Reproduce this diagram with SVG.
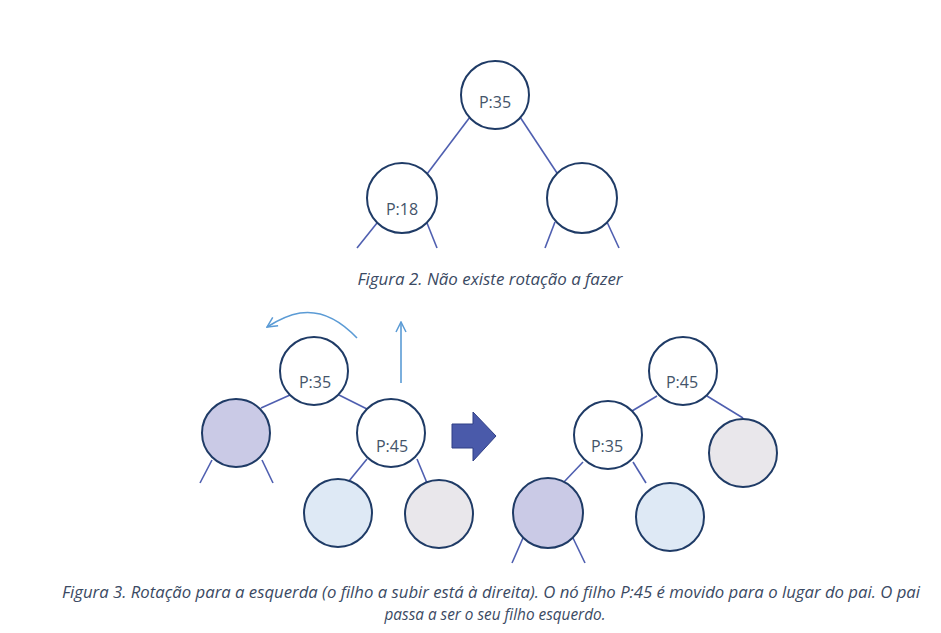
<svg xmlns="http://www.w3.org/2000/svg" width="941" height="633" viewBox="0 0 941 633">
<defs>
<style>
.n{stroke:#1F3B66;stroke-width:2}
.w{fill:#FFFFFF}
.pu{fill:#CACAE6}
.lb{fill:#DEE9F5}
.gr{fill:#E9E7EB}
.e{stroke:#4F5FB0;stroke-width:1.6;fill:none}
.t{font-family:"Open Sans","Noto Sans","Liberation Sans",sans-serif;font-size:16px;fill:#44546A;text-anchor:middle}
.cap{font-family:"Open Sans","Liberation Sans",sans-serif;font-style:italic;font-size:15.5px;fill:#3B4A63;text-anchor:middle}
.ba{stroke:#5B9BD5;stroke-width:1.6;fill:none}
</style>
<marker id="ah" viewBox="0 0 12 12" refX="11" refY="6" markerWidth="12" markerHeight="12" markerUnits="userSpaceOnUse" orient="auto">
<path d="M1,1 L11,6 L1,11" fill="none" stroke="#5B9BD5" stroke-width="1.5"/>
</marker>
</defs>
<rect width="941" height="633" fill="#FFFFFF"/>

<g id="connectors">
<line class="e" x1="470" y1="117" x2="427" y2="174"/>
<line class="e" x1="520" y1="117" x2="557" y2="173"/>
<line class="e" x1="377" y1="223" x2="357" y2="248"/>
<line class="e" x1="427" y1="223" x2="437" y2="248"/>
<line class="e" x1="555" y1="222" x2="545" y2="248"/>
<line class="e" x1="607" y1="222" x2="619" y2="248"/>

<line class="e" x1="290" y1="395" x2="261" y2="408"/>
<line class="e" x1="339" y1="395" x2="367" y2="409"/>
<line class="e" x1="212" y1="460" x2="200" y2="483"/>
<line class="e" x1="262" y1="460" x2="273" y2="483"/>
<line class="e" x1="367" y1="459" x2="349" y2="481"/>
<line class="e" x1="417" y1="459" x2="427" y2="483"/>

<line class="e" x1="657" y1="396" x2="632" y2="411"/>
<line class="e" x1="707" y1="396" x2="743" y2="418"/>
<line class="e" x1="583" y1="462" x2="563" y2="483"/>
<line class="e" x1="633" y1="462" x2="646" y2="483"/>
<line class="e" x1="523" y1="538" x2="512" y2="563"/>
<line class="e" x1="573" y1="538" x2="585" y2="563"/>

<path class="ba" d="M357,338 C340,320 320,310 300,313 C288,315 278,320 267,327" marker-end="url(#ah)"/>
<line class="ba" x1="401" y1="383" x2="401" y2="322" marker-end="url(#ah)"/>
</g>

<g id="fig2-root"><circle class="n w" cx="495" cy="95" r="34"/><text class="t" x="495" y="108">P:35</text></g>
<g id="fig2-left"><circle class="n w" cx="402" cy="198" r="35"/><text class="t" x="402" y="215">P:18</text></g>
<g id="fig2-right"><circle class="n w" cx="582" cy="198" r="35"/></g>
<text id="caption2" class="cap" x="490" y="285" textLength="265" lengthAdjust="spacingAndGlyphs">Figura 2. Não existe rotação a fazer</text>

<g id="fig3a-p35"><circle class="n w" cx="314" cy="371" r="34"/><text class="t" x="315" y="388">P:35</text></g>
<g id="fig3a-purple"><circle class="n pu" cx="236" cy="433" r="34"/></g>
<g id="fig3a-p45"><circle class="n w" cx="391" cy="433" r="34"/><text class="t" x="392" y="452">P:45</text></g>
<g id="fig3a-lightblue"><circle class="n lb" cx="338" cy="513" r="34"/></g>
<g id="fig3a-gray"><circle class="n gr" cx="439" cy="514" r="34"/></g>

<g id="big-arrow"><path d="M452,424 L473,424 L473,412 L496,436 L473,461 L473,448 L452,448 Z" fill="#4A5AAA" stroke="#2F3F85" stroke-width="1"/></g>

<g id="fig3b-p45"><circle class="n w" cx="683" cy="371" r="34"/><text class="t" x="682" y="388">P:45</text></g>
<g id="fig3b-p35"><circle class="n w" cx="608" cy="435" r="34"/><text class="t" x="607" y="452">P:35</text></g>
<g id="fig3b-gray"><circle class="n gr" cx="743" cy="453" r="34"/></g>
<g id="fig3b-purple"><circle class="n pu" cx="548" cy="513" r="35"/></g>
<g id="fig3b-lightblue"><circle class="n lb" cx="670" cy="517" r="34"/></g>

<text id="caption3a" class="cap" x="491" y="598" textLength="858" lengthAdjust="spacingAndGlyphs">Figura 3. Rotação para a esquerda (o filho a subir está à direita). O nó filho P:45 é movido para o lugar do pai. O pai</text>
<text id="caption3b" class="cap" x="495" y="620" textLength="221" lengthAdjust="spacingAndGlyphs">passa a ser o seu filho esquerdo.</text>
</svg>
